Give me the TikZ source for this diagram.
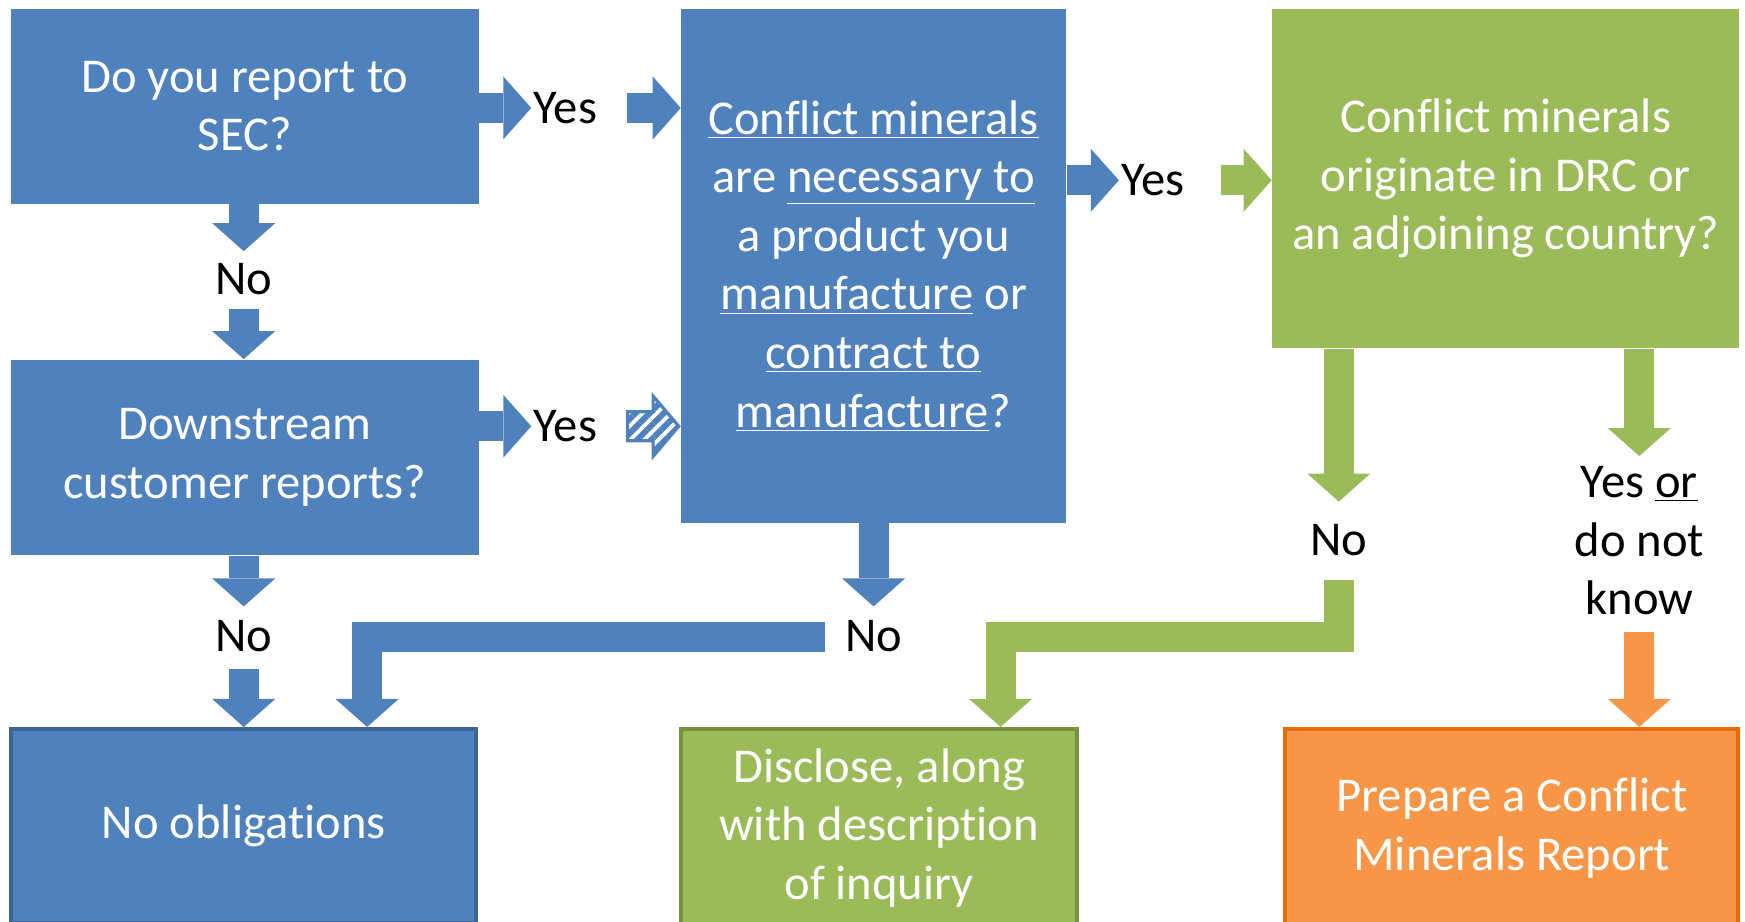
\documentclass[tikz,border=0pt]{standalone}
\usepackage{fontspec}
\setmainfont{Carlito}[Ligatures=NoCommon]
\usetikzlibrary{arrows.meta}
\usetikzlibrary{positioning}
\usetikzlibrary{calc}
\usetikzlibrary{patterns.meta}

\definecolor{boxblue}{HTML}{4F81BD}
\definecolor{boxgreen}{HTML}{9BBB59}
\definecolor{boxorange}{HTML}{F79646}
\definecolor{edgeblue}{HTML}{3D6594}
\definecolor{edgegreen}{HTML}{76923C}
\definecolor{edgeorange}{HTML}{E46C0A}

\tikzset{
  box/.style={inner sep=0pt, align=center, text=white, font=\fontsize{24.3}{29.3}\selectfont},
  lbl/.style={inner sep=1pt, align=center, font=\fontsize{24.3}{29.3}\selectfont},
  blk/.style={line width=15pt, -{Triangle[length=14pt 0 0, width=31.5pt 0 0, line width=0pt 0 0]}},
  hatch/.style={draw=boxblue, line width=1.6pt, line join=miter,
    pattern={Lines[angle=45,distance=5pt,line width=3pt]}, pattern color=boxblue},
}

\begin{document}
\begin{tikzpicture}[x=0.5565pt,y=-0.5565pt]
\useasboundingbox (0,0) rectangle (1568,828);
\clip (0,0) rectangle (1568,828);

% questions
\node[box, fill=boxblue, minimum width=233.7pt, minimum height=97.4pt] (q1) at (220,95.5) {Do you report to\\SEC?};
\node[box, fill=boxblue, minimum width=233.7pt, minimum height=97.9pt] (q2) at (220,411) {Downstream\\customer reports?};
\node[box, fill=boxblue, minimum width=192.5pt, minimum height=257.1pt] (q3) at (785,239) {\underline{Conflict minerals}\\are \underline{necessary to}\\a product you\\\underline{manufacture} or\\\underline{contract to}\\\underline{manufacture}?};
\node[box, fill=boxgreen, minimum width=233.7pt, minimum height=169.7pt] (q4) at (1353,160.5) {Conflict minerals\\originate in DRC or\\an adjoining country?};

% outcomes
\node[box, fill=boxblue, draw=edgeblue, line width=2pt, minimum width=232.6pt, minimum height=96.8pt] (q5) at (219,742) {No obligations};
\node[box, fill=boxgreen, draw=edgegreen, line width=2pt, minimum width=198.1pt, minimum height=99.1pt] (q6) at (790,744) {Disclose, along\\with description\\of inquiry};
\node[box, fill=boxorange, draw=edgeorange, line width=2pt, minimum width=226.5pt, minimum height=99.1pt] (q7) at (1358.5,744) {Prepare a Conflict\\Minerals Report};

% answers
\node[lbl] (yes1) at (508,97) {Yes};
\node[lbl] (no1) at (219,251) {No};
\node[lbl] (yes2) at (508,383) {Yes};
\node[lbl] (no2) at (219,572) {No};
\node[lbl] (no3) at (785,572) {No};
\node[lbl] (yes3) at (1036,162) {Yes};
\node[lbl] (no4) at (1203,485) {No};
\node[lbl] (yesor) at (1473,486) {Yes \underline{or}\\do not\\know};

% blue flow
\draw[blk, boxblue] (q1.east |- yes1) -- (yes1.west);
\draw[blk, boxblue] ([xshift=14pt]yes1.east) -- (q3.west |- yes1);
\draw[blk, boxblue] (q1.south -| no1) -- ([yshift=5pt]no1.north);
\draw[blk, boxblue] ([yshift=-6pt]no1.south) -- (q2.north -| no1);
\draw[blk, boxblue] (q2.east |- yes2) -- (yes2.west);
\coordinate (h0) at ([xshift=14pt]yes2.east);
\coordinate (h1) at ([xshift=-1pt]q3.west |- yes2);
\draw[hatch] ($(h0)+(0,-13)$) -- ($(h1)+(-23,-13)$) -- ($(h1)+(-23,-27)$) -- (h1)
  -- ($(h1)+(-23,27)$) -- ($(h1)+(-23,13)$) -- ($(h0)+(0,13)$) -- cycle;
\draw[blk, boxblue] (q2.south -| no2) -- ([yshift=6pt]no2.north);
\draw[blk, boxblue] ([yshift=-7pt]no2.south) -- (q5.north -| no2);
\draw[blk, boxblue] (q3.south -| no3) -- ([yshift=6pt]no3.north);
\draw[blk, boxblue, line join=miter] ([xshift=-9pt]no3.west) -| ([xshift=-55.6pt]q5.north east);
\draw[blk, boxblue] (q3.east |- yes3) -- (yes3.west);

% green and orange flow
\draw[blk, boxgreen] ([xshift=17pt]yes3.east) -- (q4.west |- yes3);
\draw[blk, boxgreen] (q4.south -| no4) -- ([yshift=10pt]no4.north);
\draw[blk, boxgreen, line join=miter] ([yshift=-11pt]no4.south) -- (no4 |- no3) -| ([xshift=60.7pt]q6.north);
\draw[blk, boxgreen] (q4.south -| yesor) -- ([yshift=4pt]yesor.north);
\draw[blk, boxorange] ([yshift=-7pt]yesor.south) -- (q7.north -| yesor);
\end{tikzpicture}
\end{document}
